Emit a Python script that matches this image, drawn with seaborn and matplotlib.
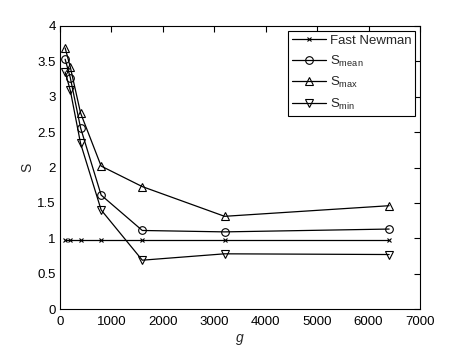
import numpy as np
import pandas as pd
import matplotlib
matplotlib.use("Agg")
import matplotlib.pyplot as plt
import seaborn as sns

g = [100, 200, 400, 800, 1600, 3200, 6400]
fast_newman = [0.97, 0.97, 0.97, 0.97, 0.97, 0.97, 0.97]
s_mean = [3.53, 3.27, 2.56, 1.61, 1.11, 1.09, 1.13]
s_max = [3.69, 3.42, 2.77, 2.02, 1.73, 1.31, 1.46]
s_min = [3.35, 3.09, 2.34, 1.40, 0.69, 0.78, 0.77]

names = ["Fast Newman", r"S$_{\mathregular{mean}}$", r"S$_{\mathregular{max}}$", r"S$_{\mathregular{min}}$"]
series = [fast_newman, s_mean, s_max, s_min]
marker_list = ["x", "o", "^", "v"]

sns.set_style("white")
plt.rcParams["font.family"] = ["Liberation Sans", "DejaVu Sans"]
plt.rcParams["mathtext.default"] = "regular"

fig = plt.figure(figsize=(4.63, 3.49), dpi=100)
ax = fig.add_axes([60/463, 40/349, 360/463, 283/349])

for n, v, m in zip(names, series, marker_list):
    d = pd.DataFrame({"g": g, "S": v})
    if m == "x":
        sns.lineplot(data=d, x="g", y="S", color="black", marker="x", markersize=3.5,
                     markeredgewidth=0.8, markeredgecolor="black",
                     linewidth=0.9, label=n, ax=ax)
    else:
        sns.lineplot(data=d, x="g", y="S", color="black", marker=m,
                     markersize=5.5 if m == "o" else 6,
                     markerfacecolor="none", markeredgecolor="black",
                     markeredgewidth=0.8, linewidth=0.9, label=n, ax=ax)

ax.set_xlim(0, 7000)
ax.set_ylim(0, 4)
ax.set_xticks(np.arange(0, 7001, 1000))
ax.set_yticks(np.arange(0, 4.01, 0.5))
ax.set_yticklabels(["0", "0.5", "1", "1.5", "2", "2.5", "3", "3.5", "4"])
ax.tick_params(direction="in", length=4, width=0.8, labelsize=9.5, top=True, right=True,
               colors="black")
ax.tick_params(axis="x", pad=5)
ax.tick_params(axis="y", pad=3)
for s in ax.spines.values():
    s.set_linewidth(0.8)
    s.set_color("black")
ax.set_xlabel("g", fontsize=10, style="italic", labelpad=2)
ax.set_ylabel("S", fontsize=10, labelpad=2)

handles, labels = ax.get_legend_handles_labels()
leg = ax.legend(handles, labels, loc="upper right", fontsize=9.5, frameon=True,
                fancybox=False, edgecolor="black", framealpha=1,
                handlelength=2.6, borderaxespad=0.35, labelspacing=0.5,
                handletextpad=0.3, borderpad=0.3)
leg.get_frame().set_linewidth(0.8)

fig.savefig("out.png", dpi=100)
